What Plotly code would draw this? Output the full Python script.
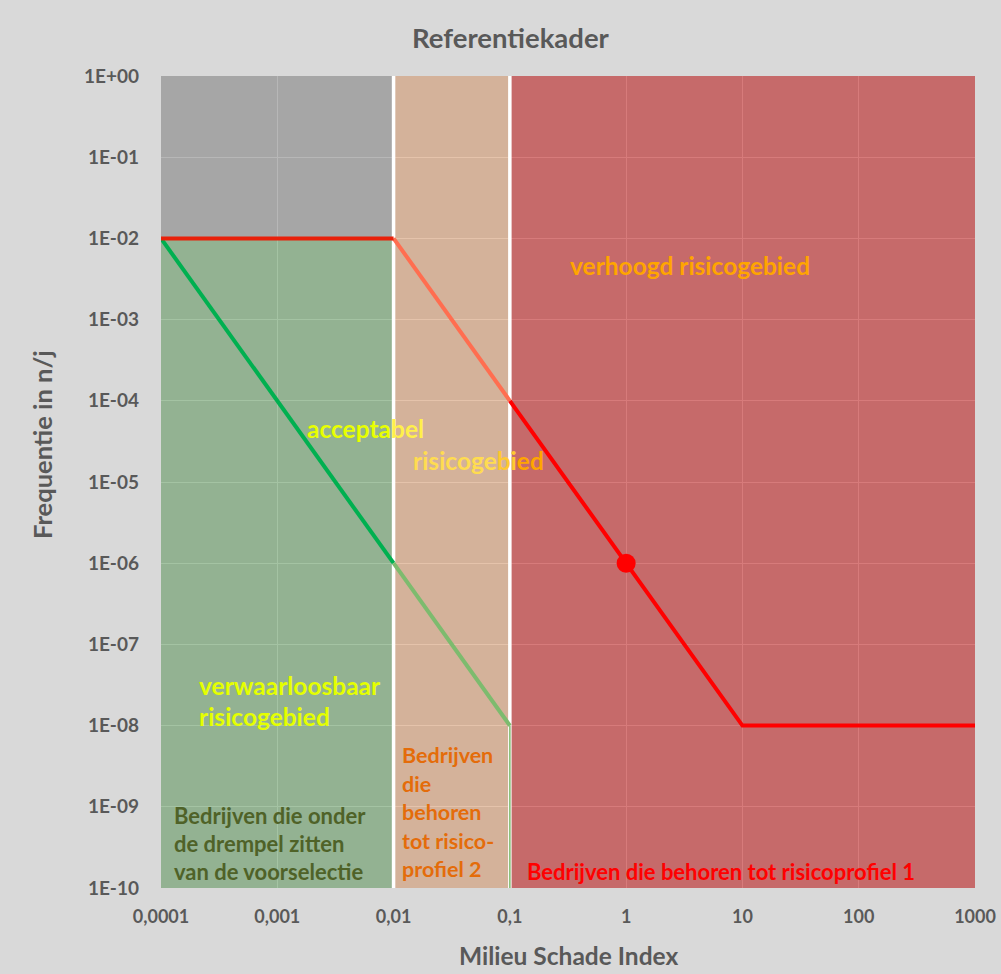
import plotly.graph_objects as go

# ---------------- data ----------------
x_tickvals = [0.0001, 0.001, 0.01, 0.1, 1, 10, 100, 1000]
x_ticktext = ["0,0001", "0,001", "0,01", "0,1", "1", "10", "100", "1000"]
y_tickvals = [1e0, 1e-1, 1e-2, 1e-3, 1e-4, 1e-5, 1e-6, 1e-7, 1e-8, 1e-9, 1e-10]
y_ticktext = ["1E+00", "1E-01", "1E-02", "1E-03", "1E-04", "1E-05",
              "1E-06", "1E-07", "1E-08", "1E-09", "1E-10"]

# zone boundaries (Milieu Schade Index / frequency)
x_min, x_b1, x_b2, x_max = 0.0001, 0.01, 0.1, 1000
y_min, y_mid, y_max = 1e-10, 1e-2, 1e0

# criteria lines
top_line_x = [0.0001, 0.01]
top_line_y = [1e-2, 1e-2]
green_x = [0.0001, 0.01]
green_y = [1e-2, 1e-6]
green2_x = [0.01, 0.1]
green2_y = [1e-6, 1e-8]
salmon_x = [0.01, 0.1]
salmon_y = [1e-2, 1e-4]
red_x = [0.1, 10, 1000]
red_y = [1e-4, 1e-8, 1e-8]
point_x = [1]
point_y = [1e-6]

# ---------------- layout constants ----------------
W, H = 1001, 974
ML, MR, MT, MB = 161, 26, 76, 86
PW, PH = W - ML - MR, H - MT - MB
FONT = "Lato"
GREY_TXT = "#595959"


def px(xp, yp):
    """pixel position -> paper coordinates"""
    return (xp - ML) / PW, 1 - (yp - MT) / PH


fig = go.Figure()


def rect(x0, x1, y0, y1, color):
    fig.add_trace(go.Scatter(
        x=[x0, x1, x1, x0, x0], y=[y0, y0, y1, y1, y0],
        mode="lines", fill="toself", fillcolor=color,
        line=dict(width=0), hoverinfo="skip", showlegend=False))


A = 0.55
rect(x_min, x_b1, y_mid, y_max, f"rgba(124,124,124,{A})")   # grey
rect(x_min, x_b1, y_min, y_mid, f"rgba(90,146,88,{A})")     # green
rect(x_b1, x_b2, y_min, y_max, f"rgba(208,146,102,{A})")    # tan
rect(x_b2, x_max, y_min, y_max, f"rgba(182,15,15,{A})")     # red

# white separators
for xb in (x_b1, x_b2):
    fig.add_trace(go.Scatter(x=[xb, xb], y=[y_min, y_max], mode="lines",
                             line=dict(color="white", width=3.5),
                             hoverinfo="skip", showlegend=False))


def line(xs, ys, color, width=4):
    fig.add_trace(go.Scatter(x=xs, y=ys, mode="lines",
                             line=dict(color=color, width=width),
                             hoverinfo="skip", showlegend=False))


line(green_x, green_y, "#00b050")
line(green2_x, green2_y, "#7dbb6e")
line([x_b2, x_b2], [green2_y[-1], y_min], "#7dbb6e", 1.5)
line(salmon_x, salmon_y, "#ff6e50")
line(red_x, red_y, "#ff0000")
line(top_line_x, top_line_y, "#e8200a")

fig.add_trace(go.Scatter(x=point_x, y=point_y, mode="markers",
                         marker=dict(color="#ff0000", size=19),
                         hoverinfo="skip", showlegend=False))

# ---------------- annotations ----------------
ann = []


def text(t, xp, yp, color, size=19, xanchor="center"):
    xx, yy = px(xp, yp)
    ann.append(dict(text=t, x=xx, y=yy, xref="paper", yref="paper",
                    xanchor=xanchor, yanchor="middle", showarrow=False,
                    font=dict(family=FONT, size=size, color=color)))


text("<b>Referentiekader</b>", 511, 37, GREY_TXT, 27.5)
text("<b>Milieu Schade Index</b>", 568, 955, GREY_TXT, 24.5)
xx, yy = px(42, 445)
ann.append(dict(text="<b>Frequentie in n/j</b>", x=xx, y=yy, xref="paper", yref="paper",
                textangle=-90, showarrow=False, xanchor="center", yanchor="middle",
                font=dict(family=FONT, size=25.5, color=GREY_TXT)))

text("<b>verhoogd risicogebied</b>", 690, 265, "#ffa500", 24.5)
text("<b><span style='color:#e8ff00'>accepta</span>"
     "<span style='color:#fff04a'>bel</span></b>", 365, 428, "#e8ff00", 24.5)
text("<b><span style='color:#ffdc50'>risicoge</span>"
     "<span style='color:#ffc830'>bi</span>"
     "<span style='color:#ffa500'>ed</span></b>", 478, 460, "#ffd050", 24.5)
text("<b>verwaarloosbaar</b>", 197, 685, "#e5ff00", 24.5, "left")
text("<b>risicogebied</b>", 197, 716, "#e5ff00", 24.5, "left")
for i, t in enumerate(["Bedrijven die onder", "de drempel zitten", "van de voorselectie"]):
    text(f"<b>{t}</b>", 172, 815 + 28 * i, "#4f6228", 22, "left")
for i, t in enumerate(["Bedrijven", "die", "behoren", "tot risico-", "profiel 2"]):
    text(f"<b>{t}</b>", 400, 755 + 28.5 * i, "#e46c0a", 21.5, "left")
text("<b>Bedrijven die behoren tot risicoprofiel 1</b>", 525, 871, "#ff0000", 22, "left")

fig.update_layout(
    width=W, height=H, autosize=False,
    margin=dict(l=ML, r=MR, t=MT, b=MB, autoexpand=False),
    paper_bgcolor="#d9d9d9", plot_bgcolor="#d9d9d9",
    showlegend=False,
    annotations=ann,
    font=dict(family=FONT, color=GREY_TXT),
)
fig.update_xaxes(type="log", range=[-4, 3], tickvals=x_tickvals, ticktext=x_ticktext,
                 showgrid=True, gridcolor="white", gridwidth=1, zeroline=False,
                 showline=False, ticks="", ticklabelstandoff=16, automargin=False,
                 tickfont=dict(family=FONT, size=18, color=GREY_TXT, weight="bold"))
fig.update_yaxes(type="log", range=[-10, 0], tickvals=y_tickvals, ticktext=y_ticktext,
                 showgrid=True, gridcolor="white", gridwidth=1, zeroline=False,
                 showline=False, ticks="", ticklabelstandoff=21, automargin=False,
                 tickfont=dict(family=FONT, size=19, color=GREY_TXT, weight="bold"))

post = ("document.body.style.margin='0';document.body.style.padding='0';"
        "document.body.style.overflow='hidden';"
        "var gd=document.getElementById('{plot_id}');"
        "Plotly.relayout(gd,{width:%d,height:%d});" % (W, H))
fig.write_html("out.html", post_script=post,
               config={"displayModeBar": False, "responsive": False})
